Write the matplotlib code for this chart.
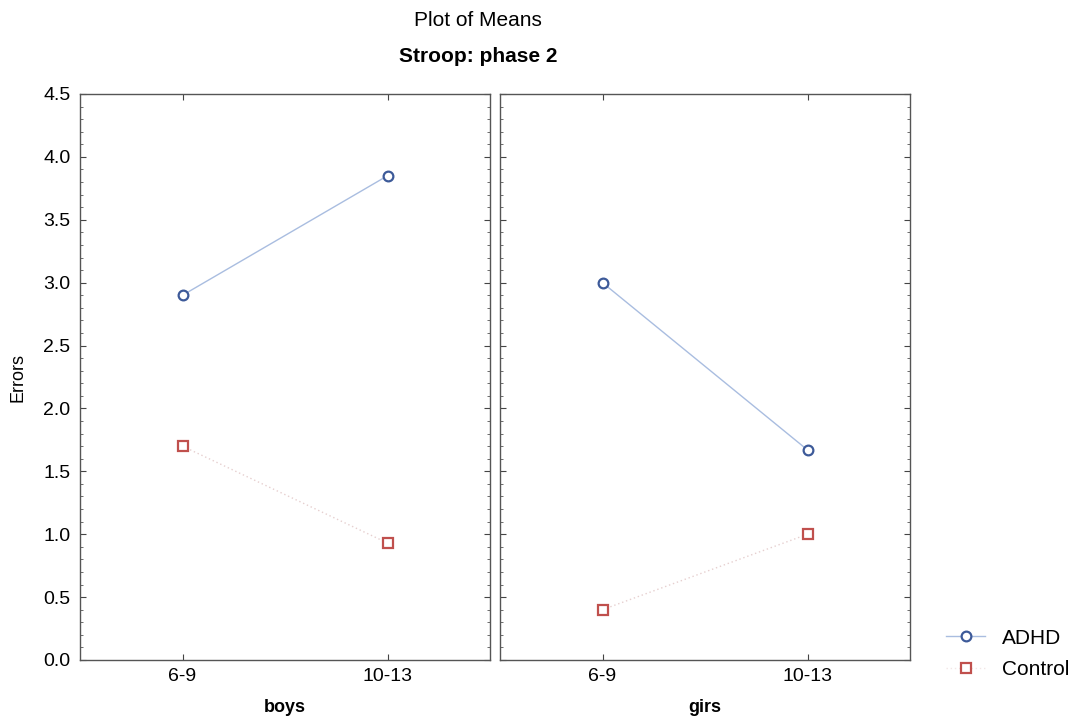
import matplotlib
matplotlib.use("Agg")
import matplotlib.pyplot as plt
from matplotlib.ticker import MultipleLocator
from matplotlib.lines import Line2D

plt.rcParams['font.family'] = ['Liberation Sans', 'DejaVu Sans']

categories = ["6-9", "10-13"]
panels = ["boys", "girs"]
adhd = {"boys": [2.90, 3.85], "girs": [3.00, 1.67]}
control = {"boys": [1.70, 0.93], "girs": [0.40, 1.00]}
yticks = [0.0, 0.5, 1.0, 1.5, 2.0, 2.5, 3.0, 3.5, 4.0, 4.5]

fig = plt.figure(figsize=(10.81, 7.28), dpi=100)
W, H = 1081, 728
ax_specs = [(80, 490), (500, 910)]
top, bottom = 94, 660

axes = []
for (x0, x1), panel in zip(ax_specs, panels):
    ax = fig.add_axes([x0 / W, (H - bottom) / H, (x1 - x0) / W, (bottom - top) / H])
    axes.append(ax)
    xs = list(range(len(categories)))
    ax.plot(xs, adhd[panel], color="#a9bde0", lw=1.0, marker="o", ms=7,
            mfc="white", mec="#3d5a99", mew=1.6, zorder=3)
    ax.plot(xs, control[panel], color="#e6cfcf", lw=1.0, ls=(0, (1, 2)), marker="s", ms=7,
            mfc="white", mec="#c0504d", mew=1.6, zorder=3)
    ax.set_xlim(-0.5, 1.5)
    ax.set_ylim(0, 4.5)
    ax.set_xticks(xs)
    ax.set_xticklabels(categories, fontsize=14)
    ax.set_yticks(yticks)
    ax.yaxis.set_minor_locator(MultipleLocator(0.1))
    ax.tick_params(axis="both", direction="in", top=True, right=True, length=4,
                   width=0.8, color="#444444", labelsize=14)
    ax.tick_params(axis="x", pad=6)
    ax.tick_params(axis="y", pad=7)
    ax.tick_params(axis="y", which="minor", direction="in", left=True, right=True, length=2,
                   width=0.6, color="#555555")
    for s in ax.spines.values():
        s.set_color("#555555")
        s.set_linewidth(1.0)
    ax.set_xlabel(panel, fontsize=13, fontweight="bold", labelpad=10)

axes[0].set_ylabel("Errors", fontsize=13)
axes[0].yaxis.set_label_coords(-0.13, 0.5)
axes[0].set_yticklabels(["%.1f" % v for v in yticks])
axes[1].tick_params(axis="y", labelleft=False)

fig.text(478 / W, 1 - 20 / H, "Plot of Means", ha="center", va="center", fontsize=15)
fig.text(478 / W, 1 - 56 / H, "Stroop: phase 2", ha="center", va="center", fontsize=15,
         fontweight="bold")

handles = [
    Line2D([], [], color="#a9bde0", lw=1.0, marker="o", ms=7, mfc="white", mec="#3d5a99", mew=1.6),
    Line2D([], [], color="#f2e6e6", lw=1.0, ls=(0, (1, 2)), marker="s", ms=7, mfc="white",
           mec="#c0504d", mew=1.6),
]
fig.legend(handles, ["ADHD", "Control"], loc="center left",
           bbox_to_anchor=(927 / W, 1 - 654 / H), frameon=False, fontsize=15,
           handlelength=1.9, handletextpad=0.8, labelspacing=0.6)

fig.savefig("out.png", dpi=100)
